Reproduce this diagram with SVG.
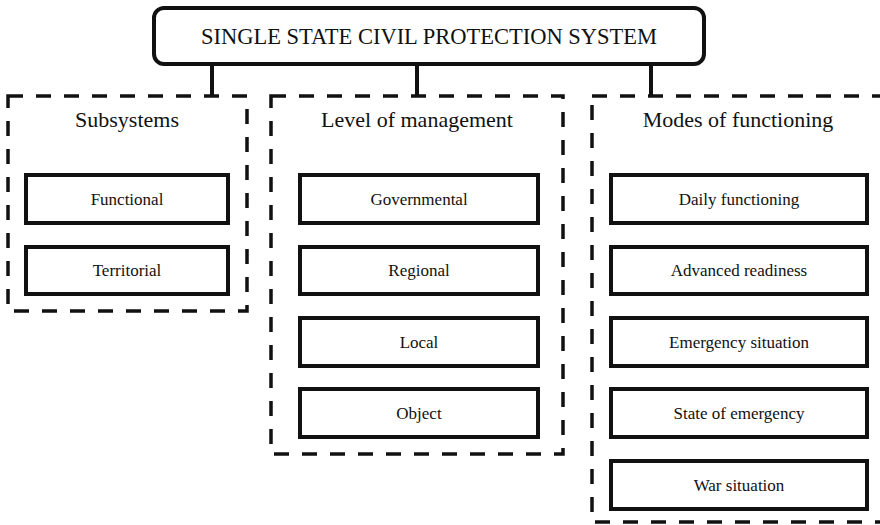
<svg xmlns="http://www.w3.org/2000/svg" width="880" height="525" viewBox="0 0 880 525">
<style>
.t{font-family:"Liberation Serif","Times New Roman","DejaVu Serif",serif;fill:#111;text-anchor:middle}
.main{font-size:22.5px}
.head{font-size:22px}
.lbl{font-size:17px}
.box{fill:#fff;stroke:#111;stroke-width:4}
.grp{fill:none;stroke:#111;stroke-width:3.5;stroke-dasharray:15 13}
.con{stroke:#111;stroke-width:4;fill:none}
</style>
<rect width="880" height="525" fill="#fff"/>
<g id="connectors">
<line class="con" x1="212" y1="64" x2="212" y2="97"/>
<line class="con" x1="417" y1="64" x2="417" y2="97"/>
<line class="con" x1="651" y1="64" x2="651" y2="97"/>
</g>
<g id="root">
<rect class="box" x="154" y="8" width="550" height="56" rx="10"/>
<text class="t main" x="429" y="44">SINGLE STATE CIVIL PROTECTION SYSTEM</text>
</g>
<g id="subsystems">
<rect class="grp" x="8" y="96" width="239" height="215"/>
<text class="t head" x="127" y="127">Subsystems</text>
</g>
<g id="functional"><rect class="box" x="26" y="175" width="202" height="48"/><text class="t lbl" x="127" y="205">Functional</text></g>
<g id="territorial"><rect class="box" x="26" y="247" width="202" height="47"/><text class="t lbl" x="127" y="276">Territorial</text></g>
<g id="level">
<rect class="grp" x="271" y="96" width="292" height="358"/>
<text class="t head" x="417" y="127">Level of management</text>
</g>
<g id="governmental"><rect class="box" x="300" y="175" width="238" height="48"/><text class="t lbl" x="419" y="205">Governmental</text></g>
<g id="regional"><rect class="box" x="300" y="247" width="238" height="47"/><text class="t lbl" x="419" y="276">Regional</text></g>
<g id="local"><rect class="box" x="300" y="318" width="238" height="48"/><text class="t lbl" x="419" y="348">Local</text></g>
<g id="object"><rect class="box" x="300" y="389" width="238" height="48"/><text class="t lbl" x="419" y="419">Object</text></g>
<g id="modes">
<rect class="grp" x="592" y="96" width="300" height="426"/>
<text class="t head" x="738" y="127">Modes of functioning</text>
</g>
<g id="daily"><rect class="box" x="611" y="175" width="256" height="48"/><text class="t lbl" x="739" y="205">Daily functioning</text></g>
<g id="advanced"><rect class="box" x="611" y="247" width="256" height="47"/><text class="t lbl" x="739" y="276">Advanced readiness</text></g>
<g id="emergency"><rect class="box" x="611" y="318" width="256" height="48"/><text class="t lbl" x="739" y="348">Emergency situation</text></g>
<g id="state"><rect class="box" x="611" y="389" width="256" height="48"/><text class="t lbl" x="739" y="419">State of emergency</text></g>
<g id="war"><rect class="box" x="611" y="461" width="256" height="48"/><text class="t lbl" x="739" y="491">War situation</text></g>
</svg>
